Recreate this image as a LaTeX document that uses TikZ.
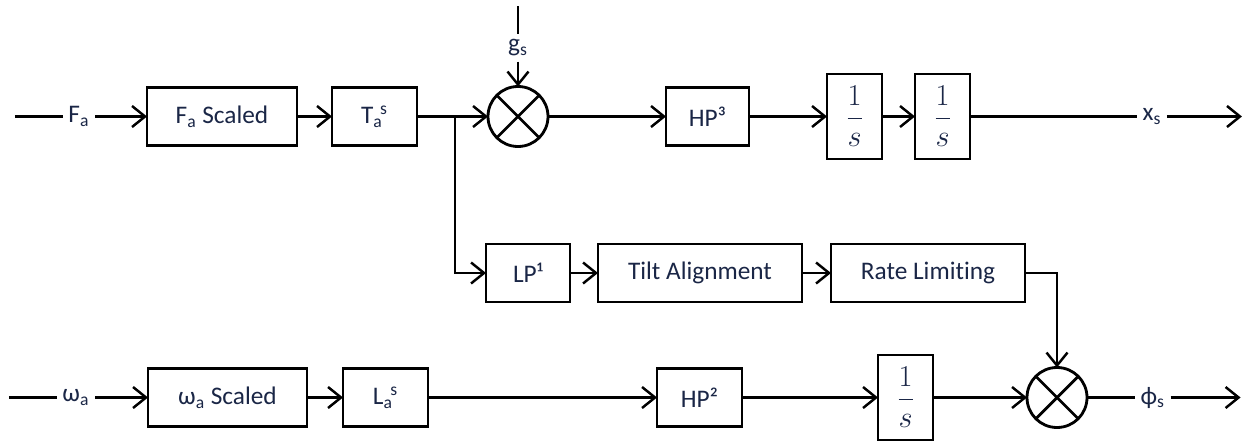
\documentclass[tikz,border=0pt]{standalone}
\usepackage{fontspec}
\setmainfont{Carlito}[Ligatures=NoCommon]
\usepackage{xcolor}
\usepackage{tikz}
\usetikzlibrary{arrows.meta,positioning}
\definecolor{ink}{RGB}{26,38,70}

\begin{document}
\begin{tikzpicture}[font=\fontsize{14.4}{17}\selectfont, text=ink, box/.style={draw, line width=1.6pt, align=center, inner sep=0pt, outer sep=0pt, minimum height=1.16cm}, integ/.style={box, minimum width=1.1cm, minimum height=1.7cm, font=\fontsize{17}{20}\selectfont}, lbl/.style={inner sep=3pt}, sumjn/.style={circle, draw, line width=1.6pt, minimum size=1.2cm, inner sep=0pt, outer sep=0pt, path picture={\draw[line width=1.6pt] (path picture bounding box.north west) -- (path picture bounding box.south east) (path picture bounding box.north east) -- (path picture bounding box.south west);}}, ln/.style={line width=1.4pt}, arr/.style={ln, -{Straight Barb[length=0.26cm, width=0.42cm]}}]
\useasboundingbox (0,0) rectangle (25.02,8.88);
\node[box, minimum width=3cm] (fas) at (4.44,6.55) {F\textsubscript{a} Scaled};
\node[box, minimum width=1.7cm, right=0.7cm of fas] (tas) {T\textsubscript{a}\kern-0.1em\textsuperscript{s}};
\node[sumjn, right=1.42cm of tas] (sum1) {};
\node[box, minimum width=1.66cm, right=2.36cm of sum1] (hp3) {HP³};
\node[integ, right=1.56cm of hp3] (int1) {$\displaystyle\frac{1}{s}$};
\node[integ, right=0.66cm of int1] (int2) {$\displaystyle\frac{1}{s}$};
\node[lbl, right=3.34cm of int2] (xs) {x\textsubscript{s}};
\coordinate[right=1.5cm of xs] (xsout);
\node[lbl, left=1.04cm of fas] (fa) {F\textsubscript{a}};
\coordinate[left=0.96cm of fa] (fain);
\node[lbl, above=0.5cm of sum1] (gs) {g\textsubscript{s}};
\coordinate[above=0.55cm of gs] (gstop);
\coordinate[right=0.76cm of tas] (br);
\node[box, minimum width=1.68cm, below right=2.55cm and 0.62cm of br] (lp1) {LP¹};
\node[box, minimum width=4.08cm, right=0.56cm of lp1] (tilt) {Tilt Alignment};
\node[box, minimum width=3.88cm, right=0.58cm of tilt] (rate) {Rate Limiting};
\node[box, minimum width=3.18cm] (was) at (4.55,0.93) {ω\textsubscript{a} Scaled};
\node[box, minimum width=1.7cm, right=0.72cm of was] (las) {L\textsubscript{a}\kern-0.1em\textsuperscript{s}};
\node[box, minimum width=1.7cm, right=4.58cm of las] (hp2) {HP²};
\node[integ, right=2.72cm of hp2] (int3) {$\displaystyle\frac{1}{s}$};
\node[sumjn, right=1.88cm of int3] (sum2) {};
\node[lbl, right=0.96cm of sum2] (phs) {ϕ\textsubscript{s}};
\coordinate[right=1.4cm of phs] (phsout);
\node[lbl, left=1.06cm of was] (wa) {ω\textsubscript{a}};
\coordinate[left=0.96cm of wa] (wain);
\draw[ln] (fain) -- (fa);
\draw[arr] (fa) -- (fas);
\draw[arr] (fas) -- (tas);
\draw[arr] (tas) -- (sum1);
\draw[ln] (gstop) -- (gs);
\draw[arr] (gs) -- (sum1);
\draw[arr] (sum1) -- (hp3);
\draw[arr] (hp3) -- (int1);
\draw[arr] (int1) -- (int2);
\draw[ln] (int2) -- (xs);
\draw[arr] (xs) -- (xsout);
\draw[arr] (br) |- (lp1);
\draw[arr] (lp1) -- (tilt);
\draw[arr] (tilt) -- (rate);
\draw[arr] (rate) -| (sum2);
\draw[ln] (wain) -- (wa);
\draw[arr] (wa) -- (was);
\draw[arr] (was) -- (las);
\draw[arr] (las) -- (hp2);
\draw[arr] (hp2) -- (int3);
\draw[arr] (int3) -- (sum2);
\draw[ln] (sum2) -- (phs);
\draw[arr] (phs) -- (phsout);
\end{tikzpicture}
\end{document}
